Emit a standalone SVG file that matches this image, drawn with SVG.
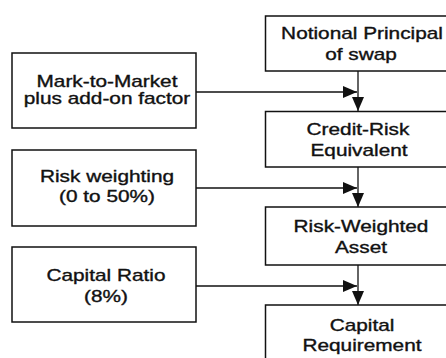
<svg xmlns="http://www.w3.org/2000/svg" width="446" height="358" viewBox="0 0 446 358">
  <style>
    .box { fill: #fff; stroke: #111; stroke-width: 1.5; }
    .lbl { font-family: "Liberation Sans", Arial, sans-serif; font-size: 16px; fill: #111; stroke: #111; stroke-width: 0.35; text-anchor: middle; }
    .wire { fill: none; stroke: #111; stroke-width: 1.3; }
  </style>
  <defs>
    <marker id="head" markerUnits="userSpaceOnUse" markerWidth="14" markerHeight="12" refX="14" refY="6" orient="auto">
      <path d="M0,0 L14,6 L0,12 Z" fill="#111"/>
    </marker>
  </defs>
  <rect width="446" height="358" fill="#fff"/>

  <!-- connectors -->
  <g id="connectors">
    <line class="wire" x1="358" y1="71" x2="358" y2="111" marker-end="url(#head)"/>
    <line class="wire" x1="358" y1="167" x2="358" y2="207" marker-end="url(#head)"/>
    <line class="wire" x1="358" y1="265" x2="358" y2="305" marker-end="url(#head)"/>
    <line class="wire" x1="196" y1="92" x2="357" y2="92" marker-end="url(#head)"/>
    <line class="wire" x1="196" y1="188" x2="357" y2="188" marker-end="url(#head)"/>
    <line class="wire" x1="196" y1="286" x2="357" y2="286" marker-end="url(#head)"/>
  </g>

  <!-- main chain (right column) -->
  <g id="notional">
    <rect class="box" x="265.5" y="16" width="192" height="55"/>
    <text class="lbl" transform="translate(362,39) scale(1.3,1)">Notional Principal</text>
    <text class="lbl" transform="translate(361,60) scale(1.3,1)">of swap</text>
  </g>
  <g id="credit-risk">
    <rect class="box" x="265.5" y="111.5" width="192" height="55.5"/>
    <text class="lbl" transform="translate(358,135) scale(1.3,1)">Credit-Risk</text>
    <text class="lbl" transform="translate(359,156) scale(1.3,1)">Equivalent</text>
  </g>
  <g id="risk-weighted">
    <rect class="box" x="265.5" y="207" width="192" height="58"/>
    <text class="lbl" transform="translate(361,232) scale(1.3,1)">Risk-Weighted</text>
    <text class="lbl" transform="translate(361,253) scale(1.3,1)">Asset</text>
  </g>
  <g id="capital-requirement">
    <rect class="box" x="265.5" y="305" width="192" height="70"/>
    <text class="lbl" transform="translate(362,331) scale(1.3,1)">Capital</text>
    <text class="lbl" transform="translate(362,351) scale(1.3,1)">Requirement</text>
  </g>

  <!-- inputs (left column) -->
  <g id="mark-to-market">
    <rect class="box" x="12" y="53" width="184" height="75"/>
    <text class="lbl" transform="translate(107,87) scale(1.3,1)">Mark-to-Market</text>
    <text class="lbl" transform="translate(107,104) scale(1.3,1)">plus add-on factor</text>
  </g>
  <g id="risk-weighting">
    <rect class="box" x="12" y="150" width="184" height="76"/>
    <text class="lbl" transform="translate(107,182) scale(1.3,1)">Risk weighting</text>
    <text class="lbl" transform="translate(107,202) scale(1.3,1)">(0 to 50%)</text>
  </g>
  <g id="capital-ratio">
    <rect class="box" x="12" y="247" width="184" height="75"/>
    <text class="lbl" transform="translate(106,281) scale(1.3,1)">Capital Ratio</text>
    <text class="lbl" transform="translate(106,302) scale(1.3,1)">(8%)</text>
  </g>
</svg>
